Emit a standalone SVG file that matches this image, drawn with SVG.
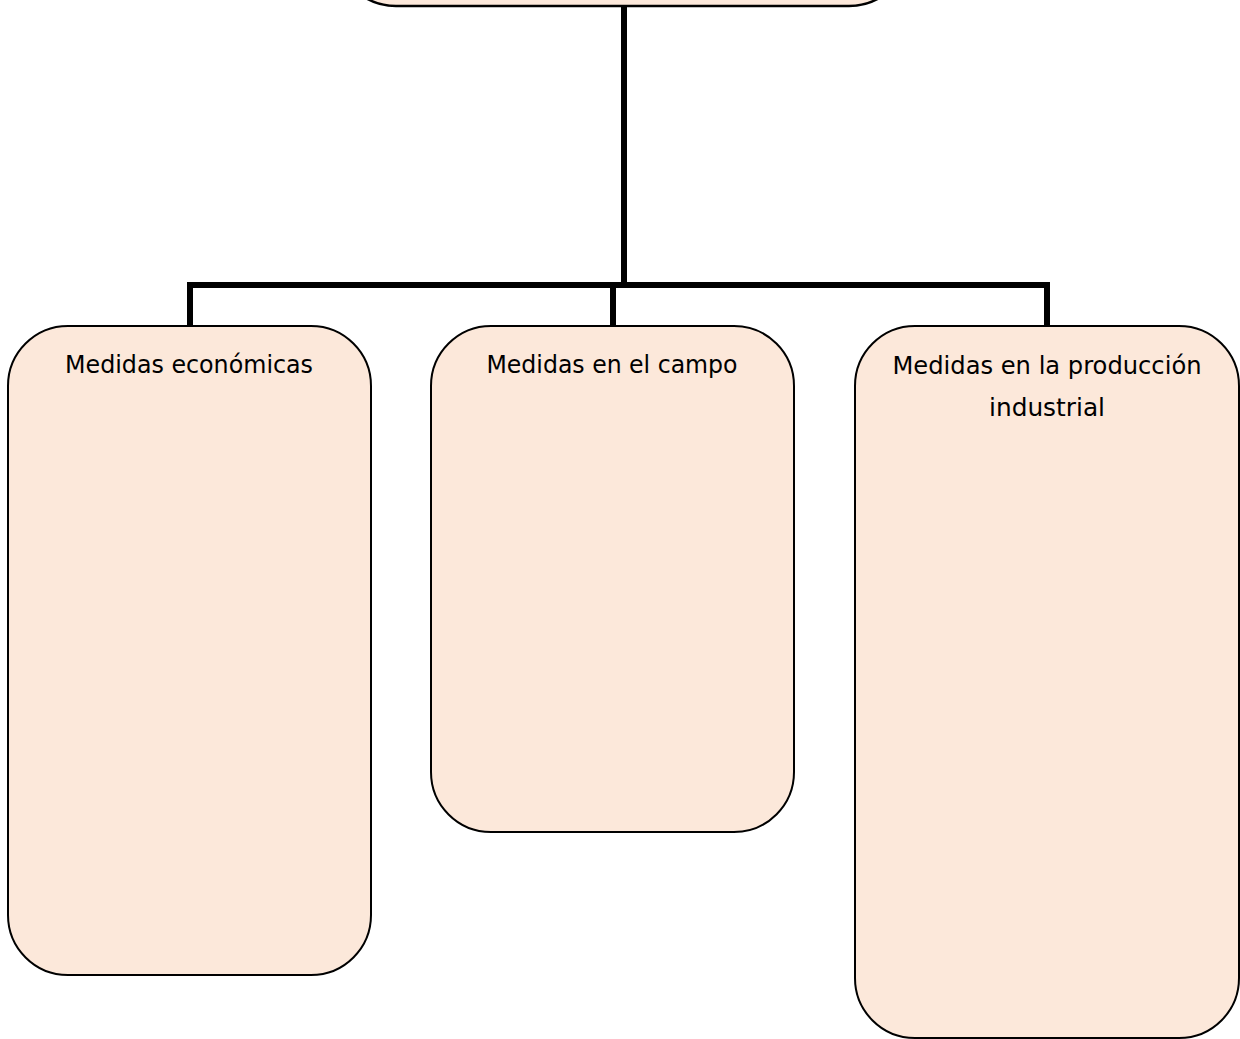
<svg xmlns="http://www.w3.org/2000/svg" width="1240" height="1039" viewBox="0 0 1240 1039">
<style>
.box{fill:#FCE8DA;stroke:#000;stroke-width:2}
.lbl{font-family:"DejaVu Sans","Liberation Sans",sans-serif;font-size:24px;fill:#000;text-anchor:middle}
.con{fill:none;stroke:#000;stroke-width:6}
</style>
<rect width="1240" height="1039" fill="#fff"/>
<g id="connectors">
<path class="con" d="M624 5 V285"/>
<path class="con" d="M190 326 V285 H1047 V326"/>
<path class="con" d="M613 285 V326"/>
</g>
<g id="node-top">
<rect class="box" x="336" y="-115" width="573" height="121" rx="60" ry="60" style="stroke-width:2.5"/>
</g>
<g id="node-economicas">
<rect class="box" x="8" y="326" width="363" height="649" rx="60" ry="60"/>
<text class="lbl" x="189" y="373" textLength="248" lengthAdjust="spacingAndGlyphs">Medidas económicas</text>
</g>
<g id="node-campo">
<rect class="box" x="431" y="326" width="363" height="506" rx="60" ry="60"/>
<text class="lbl" x="612" y="373" textLength="251" lengthAdjust="spacingAndGlyphs">Medidas en el campo</text>
</g>
<g id="node-industrial">
<rect class="box" x="855" y="326" width="384" height="712" rx="60" ry="60"/>
<text class="lbl" x="1047" y="374" textLength="309" lengthAdjust="spacingAndGlyphs">Medidas en la producción</text>
<text class="lbl" x="1047" y="416" textLength="116" lengthAdjust="spacingAndGlyphs">industrial</text>
</g>
</svg>
